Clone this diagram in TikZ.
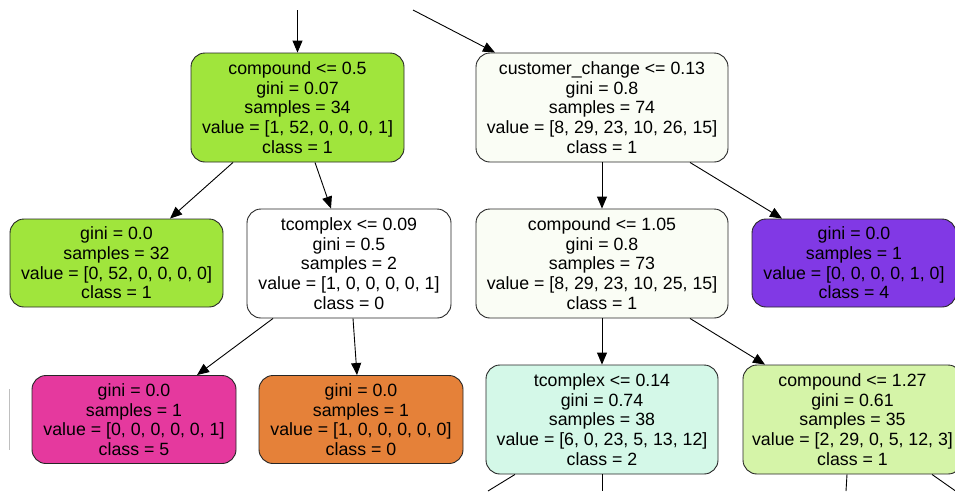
\documentclass[tikz,border=0pt]{standalone}
\usepackage{fontspec}
\setmainfont{Liberation Sans}
\usetikzlibrary{arrows.meta}

\definecolor{ClassZero}{HTML}{E58139}
\definecolor{ClassOne}{HTML}{A0E53C}
\definecolor{ClassOneLight}{HTML}{D5F4A8}
\definecolor{ClassTwoLight}{HTML}{D4F8E8}
\definecolor{ClassFour}{HTML}{8139E5}
\definecolor{ClassFive}{HTML}{E5399E}
\definecolor{Mixed}{HTML}{FAFDF5}

\begin{document}
\begin{tikzpicture}[x=1pt,y=-1pt]
   \useasboundingbox (0,0) rectangle (955,491);
   \tikzset{EdgeStyle/.style={-{Triangle[length=12pt,width=10pt]},line width=0.9pt}}
   \tikzset{BoxStyle/.style={draw=black!85,line width=0.9pt,rounded corners=14pt,
      align=center,inner sep=0pt,minimum height=109pt,
      font=\fontsize{17.75}{19.7}\selectfont}}
   \tikzset{LeafStyle/.style={BoxStyle,minimum height=88pt}}
   % first split
   \node[BoxStyle,fill=ClassOne,minimum width=213pt] (A) at (297.5,107.5)
      {compound <= 0.5\\gini = 0.07\\samples = 34\\value = [1, 52, 0, 0, 0, 1]\\class = 1};
   \node[BoxStyle,fill=Mixed,minimum width=252pt] (B) at (602,107.5)
      {customer\_change <= 0.13\\gini = 0.8\\samples = 74\\value = [8, 29, 23, 10, 26, 15]\\class = 1};
   % second level
   \node[LeafStyle,fill=ClassOne,minimum width=213pt] (C) at (116.5,263)
      {gini = 0.0\\samples = 32\\value = [0, 52, 0, 0, 0, 0]\\class = 1};
   \node[BoxStyle,fill=white,minimum width=204pt] (D) at (349,263.5)
      {tcomplex <= 0.09\\gini = 0.5\\samples = 2\\value = [1, 0, 0, 0, 0, 1]\\class = 0};
   \node[BoxStyle,fill=Mixed,minimum width=252pt] (E) at (602,263.5)
      {compound <= 1.05\\gini = 0.8\\samples = 73\\value = [8, 29, 23, 10, 25, 15]\\class = 1};
   \node[LeafStyle,fill=ClassFour,minimum width=204pt] (F) at (854,263)
      {gini = 0.0\\samples = 1\\value = [0, 0, 0, 0, 1, 0]\\class = 4};
   % third level
   \node[LeafStyle,fill=ClassFive,minimum width=204pt] (G) at (134,419.5)
      {gini = 0.0\\samples = 1\\value = [0, 0, 0, 0, 0, 1]\\class = 5};
   \node[LeafStyle,fill=ClassZero,minimum width=204pt] (H) at (361,419.5)
      {gini = 0.0\\samples = 1\\value = [1, 0, 0, 0, 0, 0]\\class = 0};
   \node[BoxStyle,fill=ClassTwoLight,minimum width=232pt] (I) at (602,419.5)
      {tcomplex <= 0.14\\gini = 0.74\\samples = 38\\value = [6, 0, 23, 5, 13, 12]\\class = 2};
   \node[BoxStyle,fill=ClassOneLight,minimum width=219pt] (J) at (852.5,419.5)
      {compound <= 1.27\\gini = 0.61\\samples = 35\\value = [2, 29, 0, 5, 12, 3]\\class = 1};
   % loose ends
   \coordinate (topA) at (297.5,10);
   \coordinate (topB) at (413,10);
   \coordinate (outI1) at (488,491);
   \coordinate (outI2) at (602,491);
   \coordinate (outJ1) at (846,491);
   \coordinate (outJ2) at (957,492);
   \draw[black!25,line width=0.6pt] (9,389) -- (9,450);
   % edges
   \draw[EdgeStyle] (topA) -- (A.north);
   \draw[EdgeStyle] (topB) -- ([xshift=-107pt]B.north);
   \draw[EdgeStyle] ([xshift=-64.5pt]A.south) -- ([xshift=53.5pt]C.north);
   \draw[EdgeStyle] ([xshift=17.5pt]A.south) -- ([xshift=-18pt]D.north);
   \draw[EdgeStyle] (B.south) -- (E.north);
   \draw[EdgeStyle] ([xshift=88pt]B.south) -- ([xshift=-72pt]F.north);
   \draw[EdgeStyle] ([xshift=-76pt]D.south) -- ([xshift=63pt]G.north);
   \draw[EdgeStyle] ([xshift=4pt]D.south) -- ([xshift=-4pt]H.north);
   \draw[EdgeStyle] (E.south) -- (I.north);
   \draw[EdgeStyle] ([xshift=88pt]E.south) -- ([xshift=-87.5pt]J.north);
   \draw[line width=0.9pt] ([xshift=-87pt]I.south) -- (outI1);
   \draw[line width=0.9pt] (I.south) -- (outI2);
   \draw[line width=0.9pt] ([xshift=-5.5pt]J.south) -- (outJ1);
   \draw[line width=0.9pt] ([xshift=79.5pt]J.south) -- (outJ2);
\end{tikzpicture}
\end{document}
